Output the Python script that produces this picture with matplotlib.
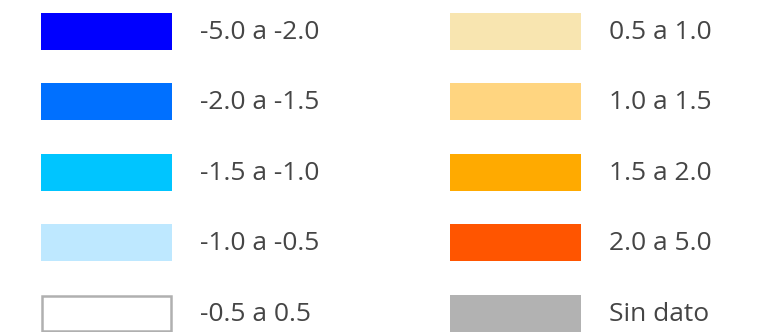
import matplotlib.pyplot as plt
from matplotlib.patches import Rectangle

# legend classes (left column then right column)
left_labels = ['-5.0 a -2.0', '-2.0 a -1.5', '-1.5 a -1.0', '-1.0 a -0.5', '-0.5 a 0.5']
left_colors = ['#0000FF', '#0070FF', '#00C5FF', '#BEE8FF', '#FFFFFF']
right_labels = ['0.5 a 1.0', '1.0 a 1.5', '1.5 a 2.0', '2.0 a 5.0', 'Sin dato']
right_colors = ['#F8E5B0', '#FFD580', '#FFAA00', '#FF5500', '#B2B2B2']

plt.rcParams['font.family'] = ['Open Sans', 'DejaVu Sans']

fig = plt.figure(figsize=(7.65, 3.32), dpi=100)
ax = fig.add_axes([0, 0, 1, 1])
ax.set_xlim(0, 765)
ax.set_ylim(332, 0)
ax.axis('off')

row_top = [13, 83, 154, 224, 295]
sw_w, sw_h = 131, 37

def draw_column(x0, labels, colors):
    for i, (lab, col) in enumerate(zip(labels, colors)):
        y = row_top[i]
        if col.upper() == '#FFFFFF':
            ax.add_patch(Rectangle((x0 + 1, y + 1), sw_w - 2, sw_h - 2, facecolor=col,
                                   edgecolor='#B0B0B0', linewidth=1.8))
        else:
            ax.add_patch(Rectangle((x0, y), sw_w, sw_h, facecolor=col, edgecolor='none'))
        ax.text(x0 + 159, y + sw_h / 2 + 1, lab, fontsize=19, color='#454545',
                va='center', ha='left')

draw_column(41, left_labels, left_colors)
draw_column(450, right_labels, right_colors)

fig.savefig('out.png', dpi=100)
